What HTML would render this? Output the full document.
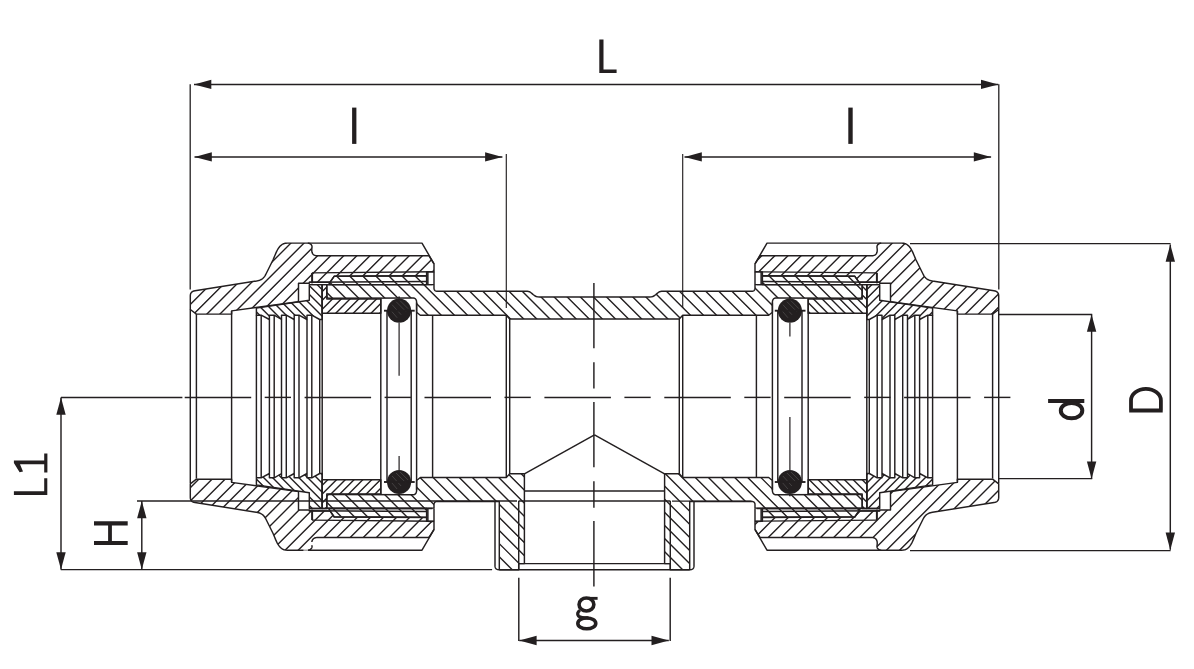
<!DOCTYPE html><html><head><meta charset="utf-8"><style>html,body{margin:0;padding:0;background:#fff;font-family:"Liberation Sans",sans-serif;overflow:hidden;}svg{display:block;}</style></head><body><svg width="1194" height="669" viewBox="0 0 1194 669"><defs><clipPath id="c1"><path d="M196.40 314.10 L190.30 309.50 L190.30 296.00 L190.37 294.89 L190.59 293.91 L190.96 293.07 L191.48 292.35 L192.14 291.77 L192.94 291.31 L193.90 290.99 L195.00 290.80 L256.50 281.00 L257.58 280.80 L258.59 280.56 L259.52 280.26 L260.39 279.91 L261.19 279.51 L261.94 279.05 L262.63 278.53 L263.28 277.96 L263.88 277.32 L264.45 276.61 L264.99 275.84 L265.50 275.00 L273.20 259.50 L273.89 257.88 L274.55 256.27 L275.21 254.69 L275.87 253.15 L276.56 251.66 L277.27 250.25 L278.04 248.92 L278.86 247.69 L279.75 246.56 L280.73 245.56 L281.81 244.71 L283.00 244.00 L283.51 243.79 L284.03 243.61 L284.57 243.45 L285.12 243.33 L285.70 243.23 L286.28 243.16 L286.88 243.11 L287.50 243.10 L307.80 243.10 L308.46 243.18 L309.07 243.32 L309.64 243.52 L310.16 243.77 L310.62 244.08 L311.02 244.44 L311.37 244.84 L311.64 245.29 L311.85 245.79 L311.98 246.32 L312.03 246.89 L312.00 247.50 L311.91 248.13 L311.83 248.78 L311.78 249.44 L311.77 250.10 L311.79 250.75 L311.85 251.39 L311.96 252.01 L312.13 252.60 L312.37 253.17 L312.67 253.69 L313.04 254.17 L313.50 254.60 L313.76 254.81 L314.04 255.00 L314.34 255.17 L314.67 255.31 L315.01 255.43 L315.38 255.54 L315.76 255.62 L316.17 255.69 L316.59 255.74 L317.04 255.77 L317.51 255.79 L318.00 255.80 L429.00 255.80 L434.00 263.80 L434.00 271.80 L426.80 271.90 L426.80 275.80 L334.10 276.30 L330.10 282.20 L309.30 282.30 L309.30 283.30 L298.50 283.30 L298.50 301.70 L231.60 310.90 L231.60 314.10ZM196.40 479.20 L190.30 483.80 L190.30 497.30 L190.37 498.41 L190.59 499.39 L190.96 500.23 L191.48 500.95 L192.14 501.53 L192.94 501.99 L193.90 502.31 L195.00 502.50 L256.50 512.30 L257.58 512.50 L258.59 512.74 L259.52 513.04 L260.39 513.39 L261.19 513.79 L261.94 514.25 L262.63 514.77 L263.28 515.34 L263.88 515.98 L264.45 516.69 L264.99 517.46 L265.50 518.30 L273.20 533.80 L273.89 535.42 L274.55 537.03 L275.21 538.61 L275.87 540.15 L276.56 541.64 L277.27 543.05 L278.04 544.38 L278.86 545.61 L279.75 546.74 L280.73 547.74 L281.81 548.59 L283.00 549.30 L283.51 549.51 L284.03 549.69 L284.57 549.85 L285.12 549.97 L285.70 550.07 L286.28 550.14 L286.88 550.19 L287.50 550.20 L307.80 550.20 L308.46 550.12 L309.07 549.98 L309.64 549.78 L310.16 549.53 L310.62 549.22 L311.02 548.86 L311.37 548.46 L311.64 548.01 L311.85 547.51 L311.98 546.98 L312.03 546.41 L312.00 545.80 L311.91 545.17 L311.83 544.52 L311.78 543.86 L311.77 543.20 L311.79 542.55 L311.85 541.91 L311.96 541.29 L312.13 540.70 L312.37 540.13 L312.67 539.61 L313.04 539.13 L313.50 538.70 L313.76 538.49 L314.04 538.30 L314.34 538.13 L314.67 537.99 L315.01 537.87 L315.38 537.76 L315.76 537.68 L316.17 537.61 L316.59 537.56 L317.04 537.53 L317.51 537.51 L318.00 537.50 L429.00 537.50 L434.00 529.50 L434.00 521.50 L426.80 521.40 L426.80 517.50 L334.10 517.00 L330.10 511.10 L309.30 511.00 L309.30 510.00 L298.50 510.00 L298.50 491.60 L231.60 482.40 L231.60 479.20Z"/></clipPath><clipPath id="c2"><path d="M992.60 314.10 L998.70 309.50 L998.70 296.00 L998.63 294.89 L998.41 293.91 L998.04 293.07 L997.52 292.35 L996.86 291.77 L996.06 291.31 L995.10 290.99 L994.00 290.80 L932.50 281.00 L931.42 280.80 L930.41 280.56 L929.48 280.26 L928.61 279.91 L927.81 279.51 L927.06 279.05 L926.37 278.53 L925.72 277.96 L925.12 277.32 L924.55 276.61 L924.01 275.84 L923.50 275.00 L915.80 259.50 L915.11 257.88 L914.45 256.27 L913.79 254.69 L913.13 253.15 L912.44 251.66 L911.73 250.25 L910.96 248.92 L910.14 247.69 L909.25 246.56 L908.27 245.56 L907.19 244.71 L906.00 244.00 L905.49 243.79 L904.97 243.61 L904.43 243.45 L903.88 243.33 L903.30 243.23 L902.72 243.16 L902.12 243.11 L901.50 243.10 L881.20 243.10 L880.54 243.18 L879.93 243.32 L879.36 243.52 L878.84 243.77 L878.38 244.08 L877.98 244.44 L877.63 244.84 L877.36 245.29 L877.15 245.79 L877.02 246.32 L876.97 246.89 L877.00 247.50 L877.09 248.13 L877.17 248.78 L877.22 249.44 L877.23 250.10 L877.21 250.75 L877.15 251.39 L877.04 252.01 L876.87 252.60 L876.63 253.17 L876.33 253.69 L875.96 254.17 L875.50 254.60 L875.24 254.81 L874.96 255.00 L874.66 255.17 L874.33 255.31 L873.99 255.43 L873.62 255.54 L873.24 255.62 L872.83 255.69 L872.41 255.74 L871.96 255.77 L871.49 255.79 L871.00 255.80 L760.00 255.80 L755.00 263.80 L755.00 271.80 L762.20 271.90 L762.20 275.80 L854.90 276.30 L858.90 282.20 L879.70 282.30 L879.70 283.30 L890.50 283.30 L890.50 301.70 L957.40 310.90 L957.40 314.10ZM992.60 479.20 L998.70 483.80 L998.70 497.30 L998.63 498.41 L998.41 499.39 L998.04 500.23 L997.52 500.95 L996.86 501.53 L996.06 501.99 L995.10 502.31 L994.00 502.50 L932.50 512.30 L931.42 512.50 L930.41 512.74 L929.48 513.04 L928.61 513.39 L927.81 513.79 L927.06 514.25 L926.37 514.77 L925.72 515.34 L925.12 515.98 L924.55 516.69 L924.01 517.46 L923.50 518.30 L915.80 533.80 L915.11 535.42 L914.45 537.03 L913.79 538.61 L913.13 540.15 L912.44 541.64 L911.73 543.05 L910.96 544.38 L910.14 545.61 L909.25 546.74 L908.27 547.74 L907.19 548.59 L906.00 549.30 L905.49 549.51 L904.97 549.69 L904.43 549.85 L903.88 549.97 L903.30 550.07 L902.72 550.14 L902.12 550.19 L901.50 550.20 L881.20 550.20 L880.54 550.12 L879.93 549.98 L879.36 549.78 L878.84 549.53 L878.38 549.22 L877.98 548.86 L877.63 548.46 L877.36 548.01 L877.15 547.51 L877.02 546.98 L876.97 546.41 L877.00 545.80 L877.09 545.17 L877.17 544.52 L877.22 543.86 L877.23 543.20 L877.21 542.55 L877.15 541.91 L877.04 541.29 L876.87 540.70 L876.63 540.13 L876.33 539.61 L875.96 539.13 L875.50 538.70 L875.24 538.49 L874.96 538.30 L874.66 538.13 L874.33 537.99 L873.99 537.87 L873.62 537.76 L873.24 537.68 L872.83 537.61 L872.41 537.56 L871.96 537.53 L871.49 537.51 L871.00 537.50 L760.00 537.50 L755.00 529.50 L755.00 521.50 L762.20 521.40 L762.20 517.50 L854.90 517.00 L858.90 511.10 L879.70 511.00 L879.70 510.00 L890.50 510.00 L890.50 491.60 L957.40 482.40 L957.40 479.20Z"/></clipPath><clipPath id="c3"><path d="M326.80 284.60 L434.00 284.60 L434.00 288.00 L434.05 288.77 L434.22 289.44 L434.49 290.01 L434.88 290.48 L435.37 290.84 L435.97 291.09 L436.68 291.25 L437.50 291.30 L527.40 291.30 L528.38 291.41 L529.30 291.71 L530.16 292.18 L530.99 292.75 L531.80 293.41 L532.61 294.10 L533.44 294.79 L534.31 295.45 L535.23 296.02 L536.23 296.49 L537.31 296.79 L538.50 296.90 L594.50 296.90 L650.50 296.90 L651.69 296.79 L652.77 296.49 L653.77 296.02 L654.69 295.45 L655.56 294.79 L656.39 294.10 L657.20 293.41 L658.01 292.75 L658.84 292.18 L659.70 291.71 L660.62 291.41 L661.60 291.30 L751.50 291.30 L752.32 291.25 L753.03 291.09 L753.63 290.84 L754.12 290.48 L754.51 290.01 L754.78 289.44 L754.95 288.77 L755.00 288.00 L755.00 284.60 L862.20 284.60 L862.20 295.00 L862.15 295.77 L862.00 296.44 L861.75 297.01 L861.40 297.48 L860.95 297.84 L860.40 298.09 L859.75 298.25 L859.00 298.30 L776.40 297.90 L775.46 297.97 L774.65 298.19 L773.96 298.55 L773.40 299.05 L772.96 299.70 L772.65 300.49 L772.46 301.42 L772.40 302.50 L772.40 312.20 L768.70 315.20 L682.70 315.20 L679.30 318.90 L594.50 318.90 L509.70 318.90 L506.30 315.20 L420.30 315.20 L416.60 312.20 L416.60 302.50 L416.54 301.42 L416.35 300.49 L416.04 299.70 L415.60 299.05 L415.04 298.55 L414.35 298.19 L413.54 297.97 L412.60 297.90 L330.00 298.30 L329.25 298.25 L328.60 298.09 L328.05 297.84 L327.60 297.48 L327.25 297.01 L327.00 296.44 L326.85 295.77 L326.80 295.00ZM326.80 508.10 L434.00 508.10 L434.00 504.70 L434.05 503.93 L434.22 503.26 L434.49 502.69 L434.88 502.23 L435.37 501.86 L435.97 501.61 L436.68 501.45 L437.50 501.40 L499.30 501.40 L499.30 569.70 L518.70 569.70 L518.70 563.60 L524.40 563.60 L524.40 473.80 L509.70 473.80 L506.30 477.50 L420.30 477.50 L416.60 480.50 L416.60 490.20 L416.54 491.28 L416.35 492.21 L416.04 493.00 L415.60 493.65 L415.04 494.15 L414.35 494.51 L413.54 494.73 L412.60 494.80 L330.00 494.40 L329.25 494.45 L328.60 494.61 L328.05 494.86 L327.60 495.23 L327.25 495.69 L327.00 496.26 L326.85 496.93 L326.80 497.70ZM862.20 508.10 L755.00 508.10 L755.00 504.70 L754.95 503.93 L754.78 503.26 L754.51 502.69 L754.12 502.23 L753.63 501.86 L753.03 501.61 L752.32 501.45 L751.50 501.40 L689.70 501.40 L689.70 569.70 L670.30 569.70 L670.30 563.60 L664.60 563.60 L664.60 473.80 L679.30 473.80 L682.70 477.50 L768.70 477.50 L772.40 480.50 L772.40 490.20 L772.46 491.28 L772.65 492.21 L772.96 493.00 L773.40 493.65 L773.96 494.15 L774.65 494.51 L775.46 494.73 L776.40 494.80 L859.00 494.40 L859.75 494.45 L860.40 494.61 L860.95 494.86 L861.40 495.23 L861.75 495.69 L862.00 496.26 L862.15 496.93 L862.20 497.70ZM334.10 276.30 L426.80 275.80 L426.80 284.60 L328.60 284.60 L330.10 282.20ZM854.90 276.30 L762.20 275.80 L762.20 284.60 L860.40 284.60 L858.90 282.20ZM334.10 516.70 L426.80 517.20 L426.80 508.40 L328.60 508.40 L330.10 510.80ZM854.90 516.70 L762.20 517.20 L762.20 508.40 L860.40 508.40 L858.90 510.80Z"/></clipPath><clipPath id="c4"><path d="M256.40 308.10 L309.30 300.20 L309.30 284.60 L322.20 284.60 L322.20 319.50 L319.70 319.50 L311.80 315.20 L307.00 315.20 L307.00 319.50 L299.00 315.20 L294.20 315.20 L294.20 319.50 L286.30 315.20 L281.50 315.20 L281.50 319.50 L274.20 315.20 L269.40 315.20 L269.40 319.50 L261.20 315.20 L256.40 315.20ZM256.40 484.90 L309.30 492.80 L309.30 508.40 L322.20 508.40 L322.20 473.50 L319.70 473.50 L311.80 477.80 L307.00 477.80 L307.00 473.50 L299.00 477.80 L294.20 477.80 L294.20 473.50 L286.30 477.80 L281.50 477.80 L281.50 473.50 L274.20 477.80 L269.40 477.80 L269.40 473.50 L261.20 477.80 L256.40 477.80Z"/></clipPath><clipPath id="c5"><path d="M932.60 308.10 L879.70 300.20 L879.70 284.60 L866.80 284.60 L866.80 319.50 L869.30 319.50 L877.20 315.20 L882.00 315.20 L882.00 319.50 L890.00 315.20 L894.80 315.20 L894.80 319.50 L902.70 315.20 L907.50 315.20 L907.50 319.50 L914.80 315.20 L919.60 315.20 L919.60 319.50 L927.80 315.20 L932.60 315.20ZM932.60 484.90 L879.70 492.80 L879.70 508.40 L866.80 508.40 L866.80 473.50 L869.30 473.50 L877.20 477.80 L882.00 477.80 L882.00 473.50 L890.00 477.80 L894.80 477.80 L894.80 473.50 L902.70 477.80 L907.50 477.80 L907.50 473.50 L914.80 477.80 L919.60 477.80 L919.60 473.50 L927.80 477.80 L932.60 477.80Z"/></clipPath><clipPath id="c6"><path d="M322.20 284.60 L326.80 284.60 L326.80 299.00 L380.80 299.00 L380.80 313.20 L322.20 313.20ZM322.20 508.40 L326.80 508.40 L326.80 494.00 L380.80 494.00 L380.80 479.80 L322.20 479.80Z"/></clipPath><clipPath id="c7"><path d="M866.80 284.60 L862.20 284.60 L862.20 299.00 L808.20 299.00 L808.20 313.20 L866.80 313.20ZM866.80 508.40 L862.20 508.40 L862.20 494.00 L808.20 494.00 L808.20 479.80 L866.80 479.80Z"/></clipPath></defs><rect width="1194" height="669" fill="#fff"/><path clip-path="url(#c1)" d="M-123.00 552.20L188.10 241.10M-109.90 552.20L201.20 241.10M-96.80 552.20L214.30 241.10M-83.70 552.20L227.40 241.10M-70.60 552.20L240.50 241.10M-57.50 552.20L253.60 241.10M-44.40 552.20L266.70 241.10M-31.30 552.20L279.80 241.10M-18.20 552.20L292.90 241.10M-5.10 552.20L306.00 241.10M8.00 552.20L319.10 241.10M21.10 552.20L332.20 241.10M34.20 552.20L345.30 241.10M47.30 552.20L358.40 241.10M60.40 552.20L371.50 241.10M73.50 552.20L384.60 241.10M86.60 552.20L397.70 241.10M99.70 552.20L410.80 241.10M112.80 552.20L423.90 241.10M125.90 552.20L437.00 241.10M139.00 552.20L450.10 241.10M152.10 552.20L463.20 241.10M165.20 552.20L476.30 241.10M178.30 552.20L489.40 241.10M191.40 552.20L502.50 241.10M204.50 552.20L515.60 241.10M217.60 552.20L528.70 241.10M230.70 552.20L541.80 241.10M243.80 552.20L554.90 241.10M256.90 552.20L568.00 241.10M270.00 552.20L581.10 241.10M283.10 552.20L594.20 241.10M296.20 552.20L607.30 241.10M309.30 552.20L620.40 241.10M322.40 552.20L633.50 241.10M335.50 552.20L646.60 241.10M348.60 552.20L659.70 241.10M361.70 552.20L672.80 241.10M374.80 552.20L685.90 241.10M387.90 552.20L699.00 241.10M401.00 552.20L712.10 241.10M414.10 552.20L725.20 241.10M427.20 552.20L738.30 241.10M440.30 552.20L751.40 241.10" stroke="#231f20" stroke-width="1.40" fill="none"/><path clip-path="url(#c2)" d="M439.10 552.20L750.20 241.10M452.20 552.20L763.30 241.10M465.30 552.20L776.40 241.10M478.40 552.20L789.50 241.10M491.50 552.20L802.60 241.10M504.60 552.20L815.70 241.10M517.70 552.20L828.80 241.10M530.80 552.20L841.90 241.10M543.90 552.20L855.00 241.10M557.00 552.20L868.10 241.10M570.10 552.20L881.20 241.10M583.20 552.20L894.30 241.10M596.30 552.20L907.40 241.10M609.40 552.20L920.50 241.10M622.50 552.20L933.60 241.10M635.60 552.20L946.70 241.10M648.70 552.20L959.80 241.10M661.80 552.20L972.90 241.10M674.90 552.20L986.00 241.10M688.00 552.20L999.10 241.10M701.10 552.20L1012.20 241.10M714.20 552.20L1025.30 241.10M727.30 552.20L1038.40 241.10M740.40 552.20L1051.50 241.10M753.50 552.20L1064.60 241.10M766.60 552.20L1077.70 241.10M779.70 552.20L1090.80 241.10M792.80 552.20L1103.90 241.10M805.90 552.20L1117.00 241.10M819.00 552.20L1130.10 241.10M832.10 552.20L1143.20 241.10M845.20 552.20L1156.30 241.10M858.30 552.20L1169.40 241.10M871.40 552.20L1182.50 241.10M884.50 552.20L1195.60 241.10M897.60 552.20L1208.70 241.10M910.70 552.20L1221.80 241.10M923.80 552.20L1234.90 241.10M936.90 552.20L1248.00 241.10M950.00 552.20L1261.10 241.10M963.10 552.20L1274.20 241.10M976.20 552.20L1287.30 241.10M989.30 552.20L1300.40 241.10M1002.40 552.20L1313.50 241.10" stroke="#231f20" stroke-width="1.40" fill="none"/><path clip-path="url(#c3)" d="M19.66 273.80L317.56 571.70M32.77 273.80L330.67 571.70M45.88 273.80L343.78 571.70M58.99 273.80L356.89 571.70M72.10 273.80L370.00 571.70M85.21 273.80L383.11 571.70M98.32 273.80L396.22 571.70M111.43 273.80L409.33 571.70M124.54 273.80L422.44 571.70M137.65 273.80L435.55 571.70M150.76 273.80L448.66 571.70M163.87 273.80L461.77 571.70M176.98 273.80L474.88 571.70M190.09 273.80L487.99 571.70M203.20 273.80L501.10 571.70M216.31 273.80L514.21 571.70M229.42 273.80L527.32 571.70M242.53 273.80L540.43 571.70M255.64 273.80L553.54 571.70M268.75 273.80L566.65 571.70M281.86 273.80L579.76 571.70M294.97 273.80L592.87 571.70M308.08 273.80L605.98 571.70M321.19 273.80L619.09 571.70M334.30 273.80L632.20 571.70M347.41 273.80L645.31 571.70M360.52 273.80L658.42 571.70M373.63 273.80L671.53 571.70M386.74 273.80L684.64 571.70M399.85 273.80L697.75 571.70M412.96 273.80L710.86 571.70M426.07 273.80L723.97 571.70M439.18 273.80L737.08 571.70M452.29 273.80L750.19 571.70M465.40 273.80L763.30 571.70M478.51 273.80L776.41 571.70M491.62 273.80L789.52 571.70M504.73 273.80L802.63 571.70M517.84 273.80L815.74 571.70M530.95 273.80L828.85 571.70M544.06 273.80L841.96 571.70M557.17 273.80L855.07 571.70M570.28 273.80L868.18 571.70M583.39 273.80L881.29 571.70M596.50 273.80L894.40 571.70M609.61 273.80L907.51 571.70M622.72 273.80L920.62 571.70M635.83 273.80L933.73 571.70M648.94 273.80L946.84 571.70M662.05 273.80L959.95 571.70M675.16 273.80L973.06 571.70M688.27 273.80L986.17 571.70M701.38 273.80L999.28 571.70M714.49 273.80L1012.39 571.70M727.60 273.80L1025.50 571.70M740.71 273.80L1038.61 571.70M753.82 273.80L1051.72 571.70M766.93 273.80L1064.83 571.70M780.04 273.80L1077.94 571.70M793.15 273.80L1091.05 571.70M806.26 273.80L1104.16 571.70M819.37 273.80L1117.27 571.70M832.48 273.80L1130.38 571.70M845.59 273.80L1143.49 571.70M858.70 273.80L1156.60 571.70M871.81 273.80L1169.71 571.70" stroke="#231f20" stroke-width="1.40" fill="none"/><path clip-path="url(#c4)" d="M24.70 282.60L252.50 510.40M33.50 282.60L261.30 510.40M42.30 282.60L270.10 510.40M51.10 282.60L278.90 510.40M59.90 282.60L287.70 510.40M68.70 282.60L296.50 510.40M77.50 282.60L305.30 510.40M86.30 282.60L314.10 510.40M95.10 282.60L322.90 510.40M103.90 282.60L331.70 510.40M112.70 282.60L340.50 510.40M121.50 282.60L349.30 510.40M130.30 282.60L358.10 510.40M139.10 282.60L366.90 510.40M147.90 282.60L375.70 510.40M156.70 282.60L384.50 510.40M165.50 282.60L393.30 510.40M174.30 282.60L402.10 510.40M183.10 282.60L410.90 510.40M191.90 282.60L419.70 510.40M200.70 282.60L428.50 510.40M209.50 282.60L437.30 510.40M218.30 282.60L446.10 510.40M227.10 282.60L454.90 510.40M235.90 282.60L463.70 510.40M244.70 282.60L472.50 510.40M253.50 282.60L481.30 510.40M262.30 282.60L490.10 510.40M271.10 282.60L498.90 510.40M279.90 282.60L507.70 510.40M288.70 282.60L516.50 510.40M297.50 282.60L525.30 510.40M306.30 282.60L534.10 510.40M315.10 282.60L542.90 510.40M323.90 282.60L551.70 510.40M332.70 282.60L560.50 510.40" stroke="#231f20" stroke-width="1.40" fill="none"/><path clip-path="url(#c5)" d="M628.50 510.40L856.30 282.60M637.30 510.40L865.10 282.60M646.10 510.40L873.90 282.60M654.90 510.40L882.70 282.60M663.70 510.40L891.50 282.60M672.50 510.40L900.30 282.60M681.30 510.40L909.10 282.60M690.10 510.40L917.90 282.60M698.90 510.40L926.70 282.60M707.70 510.40L935.50 282.60M716.50 510.40L944.30 282.60M725.30 510.40L953.10 282.60M734.10 510.40L961.90 282.60M742.90 510.40L970.70 282.60M751.70 510.40L979.50 282.60M760.50 510.40L988.30 282.60M769.30 510.40L997.10 282.60M778.10 510.40L1005.90 282.60M786.90 510.40L1014.70 282.60M795.70 510.40L1023.50 282.60M804.50 510.40L1032.30 282.60M813.30 510.40L1041.10 282.60M822.10 510.40L1049.90 282.60M830.90 510.40L1058.70 282.60M839.70 510.40L1067.50 282.60M848.50 510.40L1076.30 282.60M857.30 510.40L1085.10 282.60M866.10 510.40L1093.90 282.60M874.90 510.40L1102.70 282.60M883.70 510.40L1111.50 282.60M892.50 510.40L1120.30 282.60M901.30 510.40L1129.10 282.60M910.10 510.40L1137.90 282.60M918.90 510.40L1146.70 282.60M927.70 510.40L1155.50 282.60M936.50 510.40L1164.30 282.60" stroke="#231f20" stroke-width="1.40" fill="none"/><path clip-path="url(#c6)" d="M85.80 510.40L313.60 282.60M94.60 510.40L322.40 282.60M103.40 510.40L331.20 282.60M112.20 510.40L340.00 282.60M121.00 510.40L348.80 282.60M129.80 510.40L357.60 282.60M138.60 510.40L366.40 282.60M147.40 510.40L375.20 282.60M156.20 510.40L384.00 282.60M165.00 510.40L392.80 282.60M173.80 510.40L401.60 282.60M182.60 510.40L410.40 282.60M191.40 510.40L419.20 282.60M200.20 510.40L428.00 282.60M209.00 510.40L436.80 282.60M217.80 510.40L445.60 282.60M226.60 510.40L454.40 282.60M235.40 510.40L463.20 282.60M244.20 510.40L472.00 282.60M253.00 510.40L480.80 282.60M261.80 510.40L489.60 282.60M270.60 510.40L498.40 282.60M279.40 510.40L507.20 282.60M288.20 510.40L516.00 282.60M297.00 510.40L524.80 282.60M305.80 510.40L533.60 282.60M314.60 510.40L542.40 282.60M323.40 510.40L551.20 282.60M332.20 510.40L560.00 282.60M341.00 510.40L568.80 282.60M349.80 510.40L577.60 282.60M358.60 510.40L586.40 282.60M367.40 510.40L595.20 282.60M376.20 510.40L604.00 282.60M385.00 510.40L612.80 282.60" stroke="#231f20" stroke-width="1.40" fill="none"/><path clip-path="url(#c7)" d="M577.00 282.60L804.80 510.40M585.80 282.60L813.60 510.40M594.60 282.60L822.40 510.40M603.40 282.60L831.20 510.40M612.20 282.60L840.00 510.40M621.00 282.60L848.80 510.40M629.80 282.60L857.60 510.40M638.60 282.60L866.40 510.40M647.40 282.60L875.20 510.40M656.20 282.60L884.00 510.40M665.00 282.60L892.80 510.40M673.80 282.60L901.60 510.40M682.60 282.60L910.40 510.40M691.40 282.60L919.20 510.40M700.20 282.60L928.00 510.40M709.00 282.60L936.80 510.40M717.80 282.60L945.60 510.40M726.60 282.60L954.40 510.40M735.40 282.60L963.20 510.40M744.20 282.60L972.00 510.40M753.00 282.60L980.80 510.40M761.80 282.60L989.60 510.40M770.60 282.60L998.40 510.40M779.40 282.60L1007.20 510.40M788.20 282.60L1016.00 510.40M797.00 282.60L1024.80 510.40M805.80 282.60L1033.60 510.40M814.60 282.60L1042.40 510.40M823.40 282.60L1051.20 510.40M832.20 282.60L1060.00 510.40M841.00 282.60L1068.80 510.40M849.80 282.60L1077.60 510.40M858.60 282.60L1086.40 510.40M867.40 282.60L1095.20 510.40M876.20 282.60L1104.00 510.40" stroke="#231f20" stroke-width="1.40" fill="none"/><path d="M196.40 314.10 L190.30 309.50 L190.30 296.00 L190.37 294.89 L190.59 293.91 L190.96 293.07 L191.48 292.35 L192.14 291.77 L192.94 291.31 L193.90 290.99 L195.00 290.80 L256.50 281.00 L257.58 280.80 L258.59 280.56 L259.52 280.26 L260.39 279.91 L261.19 279.51 L261.94 279.05 L262.63 278.53 L263.28 277.96 L263.88 277.32 L264.45 276.61 L264.99 275.84 L265.50 275.00 L273.20 259.50 L273.89 257.88 L274.55 256.27 L275.21 254.69 L275.87 253.15 L276.56 251.66 L277.27 250.25 L278.04 248.92 L278.86 247.69 L279.75 246.56 L280.73 245.56 L281.81 244.71 L283.00 244.00 L283.51 243.79 L284.03 243.61 L284.57 243.45 L285.12 243.33 L285.70 243.23 L286.28 243.16 L286.88 243.11 L287.50 243.10 L307.80 243.10 L308.46 243.18 L309.07 243.32 L309.64 243.52 L310.16 243.77 L310.62 244.08 L311.02 244.44 L311.37 244.84 L311.64 245.29 L311.85 245.79 L311.98 246.32 L312.03 246.89 L312.00 247.50 L311.91 248.13 L311.83 248.78 L311.78 249.44 L311.77 250.10 L311.79 250.75 L311.85 251.39 L311.96 252.01 L312.13 252.60 L312.37 253.17 L312.67 253.69 L313.04 254.17 L313.50 254.60 L313.76 254.81 L314.04 255.00 L314.34 255.17 L314.67 255.31 L315.01 255.43 L315.38 255.54 L315.76 255.62 L316.17 255.69 L316.59 255.74 L317.04 255.77 L317.51 255.79 L318.00 255.80 L429.00 255.80 L434.00 263.80 L434.00 271.80 L426.80 271.90 L426.80 275.80 L334.10 276.30 L330.10 282.20 L309.30 282.30 L309.30 283.30 L298.50 283.30 L298.50 301.70 L231.60 310.90 L231.60 314.10Z" stroke="#231f20" stroke-width="1.45" fill="none" stroke-linejoin="round"/><path d="M992.60 314.10 L998.70 309.50 L998.70 296.00 L998.63 294.89 L998.41 293.91 L998.04 293.07 L997.52 292.35 L996.86 291.77 L996.06 291.31 L995.10 290.99 L994.00 290.80 L932.50 281.00 L931.42 280.80 L930.41 280.56 L929.48 280.26 L928.61 279.91 L927.81 279.51 L927.06 279.05 L926.37 278.53 L925.72 277.96 L925.12 277.32 L924.55 276.61 L924.01 275.84 L923.50 275.00 L915.80 259.50 L915.11 257.88 L914.45 256.27 L913.79 254.69 L913.13 253.15 L912.44 251.66 L911.73 250.25 L910.96 248.92 L910.14 247.69 L909.25 246.56 L908.27 245.56 L907.19 244.71 L906.00 244.00 L905.49 243.79 L904.97 243.61 L904.43 243.45 L903.88 243.33 L903.30 243.23 L902.72 243.16 L902.12 243.11 L901.50 243.10 L881.20 243.10 L880.54 243.18 L879.93 243.32 L879.36 243.52 L878.84 243.77 L878.38 244.08 L877.98 244.44 L877.63 244.84 L877.36 245.29 L877.15 245.79 L877.02 246.32 L876.97 246.89 L877.00 247.50 L877.09 248.13 L877.17 248.78 L877.22 249.44 L877.23 250.10 L877.21 250.75 L877.15 251.39 L877.04 252.01 L876.87 252.60 L876.63 253.17 L876.33 253.69 L875.96 254.17 L875.50 254.60 L875.24 254.81 L874.96 255.00 L874.66 255.17 L874.33 255.31 L873.99 255.43 L873.62 255.54 L873.24 255.62 L872.83 255.69 L872.41 255.74 L871.96 255.77 L871.49 255.79 L871.00 255.80 L760.00 255.80 L755.00 263.80 L755.00 271.80 L762.20 271.90 L762.20 275.80 L854.90 276.30 L858.90 282.20 L879.70 282.30 L879.70 283.30 L890.50 283.30 L890.50 301.70 L957.40 310.90 L957.40 314.10Z" stroke="#231f20" stroke-width="1.45" fill="none" stroke-linejoin="round"/><path d="M196.40 479.20 L190.30 483.80 L190.30 497.30 L190.37 498.41 L190.59 499.39 L190.96 500.23 L191.48 500.95 L192.14 501.53 L192.94 501.99 L193.90 502.31 L195.00 502.50 L256.50 512.30 L257.58 512.50 L258.59 512.74 L259.52 513.04 L260.39 513.39 L261.19 513.79 L261.94 514.25 L262.63 514.77 L263.28 515.34 L263.88 515.98 L264.45 516.69 L264.99 517.46 L265.50 518.30 L273.20 533.80 L273.89 535.42 L274.55 537.03 L275.21 538.61 L275.87 540.15 L276.56 541.64 L277.27 543.05 L278.04 544.38 L278.86 545.61 L279.75 546.74 L280.73 547.74 L281.81 548.59 L283.00 549.30 L283.51 549.51 L284.03 549.69 L284.57 549.85 L285.12 549.97 L285.70 550.07 L286.28 550.14 L286.88 550.19 L287.50 550.20 L307.80 550.20 L308.46 550.12 L309.07 549.98 L309.64 549.78 L310.16 549.53 L310.62 549.22 L311.02 548.86 L311.37 548.46 L311.64 548.01 L311.85 547.51 L311.98 546.98 L312.03 546.41 L312.00 545.80 L311.91 545.17 L311.83 544.52 L311.78 543.86 L311.77 543.20 L311.79 542.55 L311.85 541.91 L311.96 541.29 L312.13 540.70 L312.37 540.13 L312.67 539.61 L313.04 539.13 L313.50 538.70 L313.76 538.49 L314.04 538.30 L314.34 538.13 L314.67 537.99 L315.01 537.87 L315.38 537.76 L315.76 537.68 L316.17 537.61 L316.59 537.56 L317.04 537.53 L317.51 537.51 L318.00 537.50 L429.00 537.50 L434.00 529.50 L434.00 521.50 L426.80 521.40 L426.80 517.50 L334.10 517.00 L330.10 511.10 L309.30 511.00 L309.30 510.00 L298.50 510.00 L298.50 491.60 L231.60 482.40 L231.60 479.20Z" stroke="#231f20" stroke-width="1.45" fill="none" stroke-linejoin="round"/><path d="M992.60 479.20 L998.70 483.80 L998.70 497.30 L998.63 498.41 L998.41 499.39 L998.04 500.23 L997.52 500.95 L996.86 501.53 L996.06 501.99 L995.10 502.31 L994.00 502.50 L932.50 512.30 L931.42 512.50 L930.41 512.74 L929.48 513.04 L928.61 513.39 L927.81 513.79 L927.06 514.25 L926.37 514.77 L925.72 515.34 L925.12 515.98 L924.55 516.69 L924.01 517.46 L923.50 518.30 L915.80 533.80 L915.11 535.42 L914.45 537.03 L913.79 538.61 L913.13 540.15 L912.44 541.64 L911.73 543.05 L910.96 544.38 L910.14 545.61 L909.25 546.74 L908.27 547.74 L907.19 548.59 L906.00 549.30 L905.49 549.51 L904.97 549.69 L904.43 549.85 L903.88 549.97 L903.30 550.07 L902.72 550.14 L902.12 550.19 L901.50 550.20 L881.20 550.20 L880.54 550.12 L879.93 549.98 L879.36 549.78 L878.84 549.53 L878.38 549.22 L877.98 548.86 L877.63 548.46 L877.36 548.01 L877.15 547.51 L877.02 546.98 L876.97 546.41 L877.00 545.80 L877.09 545.17 L877.17 544.52 L877.22 543.86 L877.23 543.20 L877.21 542.55 L877.15 541.91 L877.04 541.29 L876.87 540.70 L876.63 540.13 L876.33 539.61 L875.96 539.13 L875.50 538.70 L875.24 538.49 L874.96 538.30 L874.66 538.13 L874.33 537.99 L873.99 537.87 L873.62 537.76 L873.24 537.68 L872.83 537.61 L872.41 537.56 L871.96 537.53 L871.49 537.51 L871.00 537.50 L760.00 537.50 L755.00 529.50 L755.00 521.50 L762.20 521.40 L762.20 517.50 L854.90 517.00 L858.90 511.10 L879.70 511.00 L879.70 510.00 L890.50 510.00 L890.50 491.60 L957.40 482.40 L957.40 479.20Z" stroke="#231f20" stroke-width="1.45" fill="none" stroke-linejoin="round"/><path d="M307.80 243.10 L422.00 243.10 L434.00 263.80" stroke="#231f20" stroke-width="1.45" fill="none" stroke-linejoin="round"/><path d="M881.20 243.10 L767.00 243.10 L755.00 263.80" stroke="#231f20" stroke-width="1.45" fill="none" stroke-linejoin="round"/><path d="M307.80 550.20 L422.00 550.20 L434.00 529.50" stroke="#231f20" stroke-width="1.45" fill="none" stroke-linejoin="round"/><path d="M881.20 550.20 L767.00 550.20 L755.00 529.50" stroke="#231f20" stroke-width="1.45" fill="none" stroke-linejoin="round"/><path d="M334.10 276.30 L426.80 275.80 L426.80 284.60 L328.60 284.60 L330.10 282.20Z" stroke="#231f20" stroke-width="1.45" fill="none" stroke-linejoin="round"/><path d="M854.90 276.30 L762.20 275.80 L762.20 284.60 L860.40 284.60 L858.90 282.20Z" stroke="#231f20" stroke-width="1.45" fill="none" stroke-linejoin="round"/><path d="M334.10 516.70 L426.80 517.20 L426.80 508.40 L328.60 508.40 L330.10 510.80Z" stroke="#231f20" stroke-width="1.45" fill="none" stroke-linejoin="round"/><path d="M854.90 516.70 L762.20 517.20 L762.20 508.40 L860.40 508.40 L858.90 510.80Z" stroke="#231f20" stroke-width="1.45" fill="none" stroke-linejoin="round"/><path d="M256.40 308.10 L309.30 300.20 L309.30 284.60 L322.20 284.60 L322.20 319.50 L319.70 319.50 L311.80 315.20 L307.00 315.20 L307.00 319.50 L299.00 315.20 L294.20 315.20 L294.20 319.50 L286.30 315.20 L281.50 315.20 L281.50 319.50 L274.20 315.20 L269.40 315.20 L269.40 319.50 L261.20 315.20 L256.40 315.20Z" stroke="#231f20" stroke-width="1.45" fill="none" stroke-linejoin="round"/><path d="M932.60 308.10 L879.70 300.20 L879.70 284.60 L866.80 284.60 L866.80 319.50 L869.30 319.50 L877.20 315.20 L882.00 315.20 L882.00 319.50 L890.00 315.20 L894.80 315.20 L894.80 319.50 L902.70 315.20 L907.50 315.20 L907.50 319.50 L914.80 315.20 L919.60 315.20 L919.60 319.50 L927.80 315.20 L932.60 315.20Z" stroke="#231f20" stroke-width="1.45" fill="none" stroke-linejoin="round"/><path d="M256.40 484.90 L309.30 492.80 L309.30 508.40 L322.20 508.40 L322.20 473.50 L319.70 473.50 L311.80 477.80 L307.00 477.80 L307.00 473.50 L299.00 477.80 L294.20 477.80 L294.20 473.50 L286.30 477.80 L281.50 477.80 L281.50 473.50 L274.20 477.80 L269.40 477.80 L269.40 473.50 L261.20 477.80 L256.40 477.80Z" stroke="#231f20" stroke-width="1.45" fill="none" stroke-linejoin="round"/><path d="M932.60 484.90 L879.70 492.80 L879.70 508.40 L866.80 508.40 L866.80 473.50 L869.30 473.50 L877.20 477.80 L882.00 477.80 L882.00 473.50 L890.00 477.80 L894.80 477.80 L894.80 473.50 L902.70 477.80 L907.50 477.80 L907.50 473.50 L914.80 477.80 L919.60 477.80 L919.60 473.50 L927.80 477.80 L932.60 477.80Z" stroke="#231f20" stroke-width="1.45" fill="none" stroke-linejoin="round"/><path d="M322.20 284.60 L326.80 284.60 L326.80 299.00 L380.80 299.00 L380.80 313.20 L322.20 313.20Z" stroke="#231f20" stroke-width="1.45" fill="none" stroke-linejoin="round"/><path d="M866.80 284.60 L862.20 284.60 L862.20 299.00 L808.20 299.00 L808.20 313.20 L866.80 313.20Z" stroke="#231f20" stroke-width="1.45" fill="none" stroke-linejoin="round"/><path d="M322.20 508.40 L326.80 508.40 L326.80 494.00 L380.80 494.00 L380.80 479.80 L322.20 479.80Z" stroke="#231f20" stroke-width="1.45" fill="none" stroke-linejoin="round"/><path d="M866.80 508.40 L862.20 508.40 L862.20 494.00 L808.20 494.00 L808.20 479.80 L866.80 479.80Z" stroke="#231f20" stroke-width="1.45" fill="none" stroke-linejoin="round"/><path d="M326.80 284.60 L434.00 284.60 L434.00 288.00 L434.05 288.77 L434.22 289.44 L434.49 290.01 L434.88 290.48 L435.37 290.84 L435.97 291.09 L436.68 291.25 L437.50 291.30 L527.40 291.30 L528.38 291.41 L529.30 291.71 L530.16 292.18 L530.99 292.75 L531.80 293.41 L532.61 294.10 L533.44 294.79 L534.31 295.45 L535.23 296.02 L536.23 296.49 L537.31 296.79 L538.50 296.90 L594.50 296.90 L650.50 296.90 L651.69 296.79 L652.77 296.49 L653.77 296.02 L654.69 295.45 L655.56 294.79 L656.39 294.10 L657.20 293.41 L658.01 292.75 L658.84 292.18 L659.70 291.71 L660.62 291.41 L661.60 291.30 L751.50 291.30 L752.32 291.25 L753.03 291.09 L753.63 290.84 L754.12 290.48 L754.51 290.01 L754.78 289.44 L754.95 288.77 L755.00 288.00 L755.00 284.60 L862.20 284.60 L862.20 295.00 L862.15 295.77 L862.00 296.44 L861.75 297.01 L861.40 297.48 L860.95 297.84 L860.40 298.09 L859.75 298.25 L859.00 298.30 L776.40 297.90 L775.46 297.97 L774.65 298.19 L773.96 298.55 L773.40 299.05 L772.96 299.70 L772.65 300.49 L772.46 301.42 L772.40 302.50 L772.40 312.20 L768.70 315.20 L682.70 315.20 L679.30 318.90 L594.50 318.90 L509.70 318.90 L506.30 315.20 L420.30 315.20 L416.60 312.20 L416.60 302.50 L416.54 301.42 L416.35 300.49 L416.04 299.70 L415.60 299.05 L415.04 298.55 L414.35 298.19 L413.54 297.97 L412.60 297.90 L330.00 298.30 L329.25 298.25 L328.60 298.09 L328.05 297.84 L327.60 297.48 L327.25 297.01 L327.00 296.44 L326.85 295.77 L326.80 295.00Z" stroke="#231f20" stroke-width="1.45" fill="none" stroke-linejoin="round"/><path d="M326.80 508.10 L434.00 508.10 L434.00 504.70 L434.05 503.93 L434.22 503.26 L434.49 502.69 L434.88 502.23 L435.37 501.86 L435.97 501.61 L436.68 501.45 L437.50 501.40 L499.30 501.40 L499.30 569.70 L518.70 569.70 L518.70 563.60 L524.40 563.60 L524.40 473.80 L509.70 473.80 L506.30 477.50 L420.30 477.50 L416.60 480.50 L416.60 490.20 L416.54 491.28 L416.35 492.21 L416.04 493.00 L415.60 493.65 L415.04 494.15 L414.35 494.51 L413.54 494.73 L412.60 494.80 L330.00 494.40 L329.25 494.45 L328.60 494.61 L328.05 494.86 L327.60 495.23 L327.25 495.69 L327.00 496.26 L326.85 496.93 L326.80 497.70Z" stroke="#231f20" stroke-width="1.45" fill="none" stroke-linejoin="round"/><path d="M862.20 508.10 L755.00 508.10 L755.00 504.70 L754.95 503.93 L754.78 503.26 L754.51 502.69 L754.12 502.23 L753.63 501.86 L753.03 501.61 L752.32 501.45 L751.50 501.40 L689.70 501.40 L689.70 569.70 L670.30 569.70 L670.30 563.60 L664.60 563.60 L664.60 473.80 L679.30 473.80 L682.70 477.50 L768.70 477.50 L772.40 480.50 L772.40 490.20 L772.46 491.28 L772.65 492.21 L772.96 493.00 L773.40 493.65 L773.96 494.15 L774.65 494.51 L775.46 494.73 L776.40 494.80 L859.00 494.40 L859.75 494.45 L860.40 494.61 L860.95 494.86 L861.40 495.23 L861.75 495.69 L862.00 496.26 L862.15 496.93 L862.20 497.70Z" stroke="#231f20" stroke-width="1.45" fill="none" stroke-linejoin="round"/><line x1="312.00" y1="272.90" x2="434.00" y2="271.80" stroke="#231f20" stroke-width="1.45"/><line x1="312.10" y1="272.90" x2="312.10" y2="283.30" stroke="#231f20" stroke-width="2.00"/><line x1="309.30" y1="284.60" x2="432.40" y2="284.60" stroke="#231f20" stroke-width="1.45"/><line x1="309.30" y1="282.30" x2="426.80" y2="281.50" stroke="#231f20" stroke-width="1.45"/><line x1="434.00" y1="271.80" x2="434.00" y2="284.60" stroke="#231f20" stroke-width="1.45"/><line x1="426.60" y1="271.90" x2="426.60" y2="284.60" stroke="#231f20" stroke-width="1.45"/><line x1="427.90" y1="271.90" x2="427.90" y2="284.60" stroke="#231f20" stroke-width="1.45"/><line x1="877.00" y1="272.90" x2="755.00" y2="271.80" stroke="#231f20" stroke-width="1.45"/><line x1="876.90" y1="272.90" x2="876.90" y2="283.30" stroke="#231f20" stroke-width="2.00"/><line x1="879.70" y1="284.60" x2="756.60" y2="284.60" stroke="#231f20" stroke-width="1.45"/><line x1="879.70" y1="282.30" x2="762.20" y2="281.50" stroke="#231f20" stroke-width="1.45"/><line x1="755.00" y1="271.80" x2="755.00" y2="284.60" stroke="#231f20" stroke-width="1.45"/><line x1="762.40" y1="271.90" x2="762.40" y2="284.60" stroke="#231f20" stroke-width="1.45"/><line x1="761.10" y1="271.90" x2="761.10" y2="284.60" stroke="#231f20" stroke-width="1.45"/><line x1="312.00" y1="520.10" x2="434.00" y2="521.20" stroke="#231f20" stroke-width="1.45"/><line x1="312.10" y1="520.10" x2="312.10" y2="509.70" stroke="#231f20" stroke-width="2.00"/><line x1="309.30" y1="508.40" x2="432.40" y2="508.40" stroke="#231f20" stroke-width="1.45"/><line x1="309.30" y1="510.70" x2="426.80" y2="511.50" stroke="#231f20" stroke-width="1.45"/><line x1="434.00" y1="521.20" x2="434.00" y2="508.40" stroke="#231f20" stroke-width="1.45"/><line x1="426.60" y1="521.10" x2="426.60" y2="508.40" stroke="#231f20" stroke-width="1.45"/><line x1="427.90" y1="521.10" x2="427.90" y2="508.40" stroke="#231f20" stroke-width="1.45"/><line x1="877.00" y1="520.10" x2="755.00" y2="521.20" stroke="#231f20" stroke-width="1.45"/><line x1="876.90" y1="520.10" x2="876.90" y2="509.70" stroke="#231f20" stroke-width="2.00"/><line x1="879.70" y1="508.40" x2="756.60" y2="508.40" stroke="#231f20" stroke-width="1.45"/><line x1="879.70" y1="510.70" x2="762.20" y2="511.50" stroke="#231f20" stroke-width="1.45"/><line x1="755.00" y1="521.20" x2="755.00" y2="508.40" stroke="#231f20" stroke-width="1.45"/><line x1="762.40" y1="521.10" x2="762.40" y2="508.40" stroke="#231f20" stroke-width="1.45"/><line x1="761.10" y1="521.10" x2="761.10" y2="508.40" stroke="#231f20" stroke-width="1.45"/><rect x="310.2" y="542.0" width="4.2" height="3.2" fill="#fff"/><rect x="303.4" y="548.8" width="4.6" height="2.6" fill="#fff" fill-opacity="0.6"/><line x1="190.30" y1="309.50" x2="190.30" y2="483.20" stroke="#231f20" stroke-width="1.45"/><line x1="998.70" y1="309.50" x2="998.70" y2="483.20" stroke="#231f20" stroke-width="1.45"/><line x1="196.40" y1="314.10" x2="196.40" y2="478.60" stroke="#231f20" stroke-width="1.45"/><line x1="992.60" y1="314.10" x2="992.60" y2="478.60" stroke="#231f20" stroke-width="1.45"/><line x1="231.60" y1="310.90" x2="231.60" y2="481.80" stroke="#231f20" stroke-width="1.45"/><line x1="957.40" y1="310.90" x2="957.40" y2="481.80" stroke="#231f20" stroke-width="1.45"/><line x1="256.40" y1="315.20" x2="256.40" y2="477.50" stroke="#231f20" stroke-width="1.45"/><line x1="932.60" y1="315.20" x2="932.60" y2="477.50" stroke="#231f20" stroke-width="1.45"/><line x1="261.20" y1="315.20" x2="261.20" y2="477.50" stroke="#231f20" stroke-width="1.45"/><line x1="927.80" y1="315.20" x2="927.80" y2="477.50" stroke="#231f20" stroke-width="1.45"/><line x1="269.40" y1="319.50" x2="269.40" y2="473.20" stroke="#231f20" stroke-width="1.45"/><line x1="919.60" y1="319.50" x2="919.60" y2="473.20" stroke="#231f20" stroke-width="1.45"/><line x1="274.20" y1="315.20" x2="274.20" y2="477.50" stroke="#231f20" stroke-width="1.45"/><line x1="914.80" y1="315.20" x2="914.80" y2="477.50" stroke="#231f20" stroke-width="1.45"/><line x1="281.50" y1="319.50" x2="281.50" y2="473.20" stroke="#231f20" stroke-width="1.45"/><line x1="907.50" y1="319.50" x2="907.50" y2="473.20" stroke="#231f20" stroke-width="1.45"/><line x1="286.30" y1="315.20" x2="286.30" y2="477.50" stroke="#231f20" stroke-width="1.45"/><line x1="902.70" y1="315.20" x2="902.70" y2="477.50" stroke="#231f20" stroke-width="1.45"/><line x1="294.20" y1="319.50" x2="294.20" y2="473.20" stroke="#231f20" stroke-width="1.45"/><line x1="894.80" y1="319.50" x2="894.80" y2="473.20" stroke="#231f20" stroke-width="1.45"/><line x1="299.00" y1="315.20" x2="299.00" y2="477.50" stroke="#231f20" stroke-width="1.45"/><line x1="890.00" y1="315.20" x2="890.00" y2="477.50" stroke="#231f20" stroke-width="1.45"/><line x1="307.00" y1="319.50" x2="307.00" y2="473.20" stroke="#231f20" stroke-width="1.45"/><line x1="882.00" y1="319.50" x2="882.00" y2="473.20" stroke="#231f20" stroke-width="1.45"/><line x1="311.80" y1="315.20" x2="311.80" y2="477.50" stroke="#231f20" stroke-width="1.45"/><line x1="877.20" y1="315.20" x2="877.20" y2="477.50" stroke="#231f20" stroke-width="1.45"/><line x1="319.70" y1="319.50" x2="319.70" y2="473.20" stroke="#231f20" stroke-width="1.45"/><line x1="869.30" y1="319.50" x2="869.30" y2="473.20" stroke="#231f20" stroke-width="1.45"/><line x1="322.20" y1="284.60" x2="322.20" y2="508.10" stroke="#231f20" stroke-width="1.45"/><line x1="866.80" y1="284.60" x2="866.80" y2="508.10" stroke="#231f20" stroke-width="1.45"/><line x1="380.80" y1="298.30" x2="380.80" y2="494.40" stroke="#231f20" stroke-width="1.45"/><line x1="808.20" y1="298.30" x2="808.20" y2="494.40" stroke="#231f20" stroke-width="1.45"/><line x1="387.00" y1="310.70" x2="387.00" y2="482.00" stroke="#231f20" stroke-width="1.45"/><line x1="802.00" y1="310.70" x2="802.00" y2="482.00" stroke="#231f20" stroke-width="1.45"/><line x1="411.20" y1="310.70" x2="411.20" y2="482.00" stroke="#231f20" stroke-width="1.45"/><line x1="777.80" y1="310.70" x2="777.80" y2="482.00" stroke="#231f20" stroke-width="1.45"/><line x1="416.60" y1="302.50" x2="416.60" y2="490.20" stroke="#231f20" stroke-width="1.45"/><line x1="772.40" y1="302.50" x2="772.40" y2="490.20" stroke="#231f20" stroke-width="1.45"/><line x1="432.60" y1="315.20" x2="432.60" y2="477.50" stroke="#231f20" stroke-width="1.45"/><line x1="756.40" y1="315.20" x2="756.40" y2="477.50" stroke="#231f20" stroke-width="1.45"/><line x1="506.30" y1="315.20" x2="506.30" y2="477.50" stroke="#231f20" stroke-width="1.45"/><line x1="682.70" y1="315.20" x2="682.70" y2="477.50" stroke="#231f20" stroke-width="1.45"/><line x1="509.70" y1="318.90" x2="509.70" y2="473.80" stroke="#231f20" stroke-width="1.45"/><line x1="679.30" y1="318.90" x2="679.30" y2="473.80" stroke="#231f20" stroke-width="1.45"/><circle cx="399.10" cy="310.70" r="12.10" fill="#231f20"/><line x1="392.10" y1="304.70" x2="401.10" y2="314.70" stroke="#231f20" stroke-width="0.50" stroke-opacity="0.55" style="stroke:#9a9a9a"/><line x1="396.10" y1="301.70" x2="406.10" y2="311.70" stroke="#231f20" stroke-width="0.50" stroke-opacity="0.55" style="stroke:#9a9a9a"/><line x1="400.10" y1="300.70" x2="408.10" y2="308.70" stroke="#231f20" stroke-width="0.50" stroke-opacity="0.55" style="stroke:#9a9a9a"/><line x1="391.10" y1="310.70" x2="397.10" y2="317.70" stroke="#231f20" stroke-width="0.50" stroke-opacity="0.55" style="stroke:#9a9a9a"/><line x1="384.00" y1="310.70" x2="414.70" y2="310.70" stroke="#231f20" stroke-width="1.90"/><line x1="399.10" y1="298.60" x2="399.10" y2="296.40" stroke="#231f20" stroke-width="1.60"/><line x1="399.10" y1="322.80" x2="399.10" y2="375.70" stroke="#231f20" stroke-width="1.20"/><circle cx="789.90" cy="310.70" r="12.10" fill="#231f20"/><line x1="782.90" y1="304.70" x2="791.90" y2="314.70" stroke="#231f20" stroke-width="0.50" stroke-opacity="0.55" style="stroke:#9a9a9a"/><line x1="786.90" y1="301.70" x2="796.90" y2="311.70" stroke="#231f20" stroke-width="0.50" stroke-opacity="0.55" style="stroke:#9a9a9a"/><line x1="790.90" y1="300.70" x2="798.90" y2="308.70" stroke="#231f20" stroke-width="0.50" stroke-opacity="0.55" style="stroke:#9a9a9a"/><line x1="781.90" y1="310.70" x2="787.90" y2="317.70" stroke="#231f20" stroke-width="0.50" stroke-opacity="0.55" style="stroke:#9a9a9a"/><line x1="774.80" y1="310.70" x2="805.50" y2="310.70" stroke="#231f20" stroke-width="1.90"/><line x1="789.90" y1="298.60" x2="789.90" y2="296.40" stroke="#231f20" stroke-width="1.60"/><line x1="789.90" y1="322.80" x2="789.90" y2="336.60" stroke="#231f20" stroke-width="1.20"/><circle cx="399.10" cy="482.00" r="12.10" fill="#231f20"/><line x1="392.10" y1="476.00" x2="401.10" y2="486.00" stroke="#231f20" stroke-width="0.50" stroke-opacity="0.55" style="stroke:#9a9a9a"/><line x1="396.10" y1="473.00" x2="406.10" y2="483.00" stroke="#231f20" stroke-width="0.50" stroke-opacity="0.55" style="stroke:#9a9a9a"/><line x1="400.10" y1="472.00" x2="408.10" y2="480.00" stroke="#231f20" stroke-width="0.50" stroke-opacity="0.55" style="stroke:#9a9a9a"/><line x1="391.10" y1="482.00" x2="397.10" y2="489.00" stroke="#231f20" stroke-width="0.50" stroke-opacity="0.55" style="stroke:#9a9a9a"/><line x1="384.00" y1="482.00" x2="414.70" y2="482.00" stroke="#231f20" stroke-width="1.90"/><line x1="399.10" y1="494.10" x2="399.10" y2="496.30" stroke="#231f20" stroke-width="1.60"/><line x1="399.10" y1="469.90" x2="399.10" y2="456.10" stroke="#231f20" stroke-width="1.20"/><circle cx="789.90" cy="482.00" r="12.10" fill="#231f20"/><line x1="782.90" y1="476.00" x2="791.90" y2="486.00" stroke="#231f20" stroke-width="0.50" stroke-opacity="0.55" style="stroke:#9a9a9a"/><line x1="786.90" y1="473.00" x2="796.90" y2="483.00" stroke="#231f20" stroke-width="0.50" stroke-opacity="0.55" style="stroke:#9a9a9a"/><line x1="790.90" y1="472.00" x2="798.90" y2="480.00" stroke="#231f20" stroke-width="0.50" stroke-opacity="0.55" style="stroke:#9a9a9a"/><line x1="781.90" y1="482.00" x2="787.90" y2="489.00" stroke="#231f20" stroke-width="0.50" stroke-opacity="0.55" style="stroke:#9a9a9a"/><line x1="774.80" y1="482.00" x2="805.50" y2="482.00" stroke="#231f20" stroke-width="1.90"/><line x1="789.90" y1="494.10" x2="789.90" y2="496.30" stroke="#231f20" stroke-width="1.60"/><line x1="789.90" y1="469.90" x2="789.90" y2="417.00" stroke="#231f20" stroke-width="1.20"/><line x1="524.40" y1="473.80" x2="594.50" y2="434.80" stroke="#231f20" stroke-width="1.45"/><line x1="594.50" y1="434.80" x2="664.60" y2="473.80" stroke="#231f20" stroke-width="1.45"/><line x1="524.40" y1="491.00" x2="664.60" y2="491.00" stroke="#231f20" stroke-width="1.45"/><line x1="518.70" y1="500.90" x2="670.30" y2="500.90" stroke="#231f20" stroke-width="1.45"/><line x1="518.70" y1="563.60" x2="670.30" y2="563.60" stroke="#231f20" stroke-width="1.45"/><line x1="499.30" y1="569.70" x2="689.70" y2="569.70" stroke="#231f20" stroke-width="1.45"/><path d="M495.00 501.50 L495.00 565.70 L495.06 566.64 L495.25 567.45 L495.56 568.14 L496.00 568.70 L496.56 569.14 L497.25 569.45 L498.06 569.64 L499.00 569.70" stroke="#231f20" stroke-width="1.45" fill="none" stroke-linejoin="round"/><path d="M694.00 501.50 L694.00 565.70 L693.94 566.64 L693.75 567.45 L693.44 568.14 L693.00 568.70 L692.44 569.14 L691.75 569.45 L690.94 569.64 L690.00 569.70" stroke="#231f20" stroke-width="1.45" fill="none" stroke-linejoin="round"/><line x1="672.00" y1="501.10" x2="751.50" y2="501.10" stroke="#231f20" stroke-width="1.45"/><line x1="518.70" y1="500.90" x2="518.70" y2="569.70" stroke="#231f20" stroke-width="1.45"/><line x1="670.30" y1="500.90" x2="670.30" y2="569.70" stroke="#231f20" stroke-width="1.45"/><line x1="194.00" y1="84.40" x2="998.30" y2="84.40" stroke="#231f20" stroke-width="1.45"/><path d="M194.00 84.40L211.30 79.70L211.30 89.10Z" fill="#231f20"/><path d="M998.30 84.40L981.00 89.10L981.00 79.70Z" fill="#231f20"/><line x1="194.50" y1="156.90" x2="502.40" y2="156.90" stroke="#231f20" stroke-width="1.45"/><path d="M194.50 156.90L211.80 152.20L211.80 161.60Z" fill="#231f20"/><path d="M502.40 156.90L485.10 161.60L485.10 152.20Z" fill="#231f20"/><line x1="684.50" y1="156.90" x2="991.10" y2="156.90" stroke="#231f20" stroke-width="1.45"/><path d="M684.50 156.90L701.80 152.20L701.80 161.60Z" fill="#231f20"/><path d="M991.10 156.90L973.80 161.60L973.80 152.20Z" fill="#231f20"/><line x1="190.20" y1="84.30" x2="190.20" y2="289.60" stroke="#231f20" stroke-width="1.30"/><line x1="998.80" y1="84.30" x2="998.80" y2="289.60" stroke="#231f20" stroke-width="1.30"/><line x1="506.30" y1="154.00" x2="506.30" y2="308.00" stroke="#231f20" stroke-width="1.15"/><line x1="682.70" y1="154.00" x2="682.70" y2="308.00" stroke="#231f20" stroke-width="1.15"/><line x1="1170.30" y1="244.60" x2="1170.30" y2="549.80" stroke="#231f20" stroke-width="1.45"/><path d="M1170.30 244.40L1175.00 261.70L1165.60 261.70Z" fill="#231f20"/><path d="M1170.30 549.90L1165.60 532.60L1175.00 532.60Z" fill="#231f20"/><line x1="910.00" y1="243.60" x2="1170.60" y2="243.60" stroke="#231f20" stroke-width="1.45"/><line x1="910.00" y1="550.60" x2="1170.60" y2="550.60" stroke="#231f20" stroke-width="1.45"/><line x1="1091.60" y1="314.50" x2="1091.60" y2="478.70" stroke="#231f20" stroke-width="1.45"/><path d="M1091.60 314.50L1096.30 331.80L1086.90 331.80Z" fill="#231f20"/><path d="M1091.60 478.70L1086.90 461.40L1096.30 461.40Z" fill="#231f20"/><line x1="998.80" y1="314.40" x2="1092.20" y2="314.40" stroke="#231f20" stroke-width="1.45"/><line x1="998.80" y1="478.60" x2="1092.20" y2="478.60" stroke="#231f20" stroke-width="1.45"/><line x1="61.00" y1="397.40" x2="61.00" y2="569.50" stroke="#231f20" stroke-width="1.45"/><path d="M61.00 397.40L65.70 414.70L56.30 414.70Z" fill="#231f20"/><path d="M61.00 569.50L56.30 552.20L65.70 552.20Z" fill="#231f20"/><line x1="60.80" y1="569.60" x2="492.10" y2="569.60" stroke="#231f20" stroke-width="1.45"/><line x1="141.80" y1="501.00" x2="141.80" y2="569.50" stroke="#231f20" stroke-width="1.45"/><path d="M141.80 501.00L146.50 518.30L137.10 518.30Z" fill="#231f20"/><path d="M141.80 569.50L137.10 552.20L146.50 552.20Z" fill="#231f20"/><line x1="137.00" y1="500.90" x2="517.00" y2="500.90" stroke="#231f20" stroke-width="1.45"/><line x1="519.30" y1="640.50" x2="668.80" y2="640.50" stroke="#231f20" stroke-width="1.45"/><path d="M519.30 640.50L536.60 635.80L536.60 645.20Z" fill="#231f20"/><path d="M668.80 640.50L651.50 645.20L651.50 635.80Z" fill="#231f20"/><line x1="518.80" y1="577.80" x2="518.80" y2="641.00" stroke="#231f20" stroke-width="1.45"/><line x1="670.20" y1="577.80" x2="670.20" y2="641.00" stroke="#231f20" stroke-width="1.45"/><line x1="61.00" y1="397.40" x2="182.40" y2="397.40" stroke="#231f20" stroke-width="1.45"/><line x1="184.70" y1="397.40" x2="251.20" y2="397.40" stroke="#231f20" stroke-width="1.45"/><line x1="264.70" y1="397.40" x2="291.00" y2="397.40" stroke="#231f20" stroke-width="1.45"/><line x1="304.60" y1="397.40" x2="371.10" y2="397.40" stroke="#231f20" stroke-width="1.45"/><line x1="384.60" y1="397.40" x2="410.90" y2="397.40" stroke="#231f20" stroke-width="1.45"/><line x1="424.50" y1="397.40" x2="491.00" y2="397.40" stroke="#231f20" stroke-width="1.45"/><line x1="504.50" y1="397.40" x2="530.80" y2="397.40" stroke="#231f20" stroke-width="1.45"/><line x1="544.40" y1="397.40" x2="610.90" y2="397.40" stroke="#231f20" stroke-width="1.45"/><line x1="624.40" y1="397.40" x2="650.70" y2="397.40" stroke="#231f20" stroke-width="1.45"/><line x1="664.30" y1="397.40" x2="730.80" y2="397.40" stroke="#231f20" stroke-width="1.45"/><line x1="744.30" y1="397.40" x2="770.60" y2="397.40" stroke="#231f20" stroke-width="1.45"/><line x1="784.20" y1="397.40" x2="850.70" y2="397.40" stroke="#231f20" stroke-width="1.45"/><line x1="864.20" y1="397.40" x2="890.50" y2="397.40" stroke="#231f20" stroke-width="1.45"/><line x1="904.10" y1="397.40" x2="970.60" y2="397.40" stroke="#231f20" stroke-width="1.45"/><line x1="984.10" y1="397.40" x2="1010.40" y2="397.40" stroke="#231f20" stroke-width="1.45"/><line x1="593.90" y1="282.90" x2="593.90" y2="348.20" stroke="#231f20" stroke-width="1.45"/><line x1="593.90" y1="362.20" x2="593.90" y2="388.60" stroke="#231f20" stroke-width="1.45"/><line x1="593.90" y1="402.00" x2="593.90" y2="467.30" stroke="#231f20" stroke-width="1.45"/><line x1="593.90" y1="481.30" x2="593.90" y2="507.70" stroke="#231f20" stroke-width="1.45"/><line x1="593.90" y1="521.10" x2="593.90" y2="586.40" stroke="#231f20" stroke-width="1.45"/><path d="M599.3 39.4 L603.5 39.4 L603.5 69.5 L616.6 69.5 L616.6 72.9 L599.3 72.9 Z" fill="#231f20"/><path d="M352.1 107.6 L356.4 107.6 L356.4 143.9 L352.1 143.9 Z" fill="#231f20"/><path d="M848.3 107.6 L852.7 107.6 L852.7 143.9 L848.3 143.9 Z" fill="#231f20"/><path d="M1129.2 410.5 L1162.7 410.5 M1131.0 410.5 L1131.0 400.4 A14.95 11.6 0 0 1 1160.9 400.4 L1160.9 410.5" stroke="#231f20" stroke-width="3.80" fill="none"/><path d="M1048.1 400.9 L1084.3 400.9" stroke="#231f20" stroke-width="4.00" fill="none"/><ellipse cx="1071.55" cy="410.6" rx="10.75" ry="7.7" stroke="#231f20" stroke-width="4.0" fill="none"/><path d="M13.9 491.3 L44.2 491.3 L44.2 478.2 L47.3 478.2 L47.3 494.9 L13.9 494.9 Z" fill="#231f20"/><path d="M13.9 460.4 L44.2 460.4 L44.2 453.6 L47.4 453.6 L47.4 472.4 L44.2 472.4 L44.2 464.2 L20.0 464.2 L23.0 471.6 L19.6 472.2 L13.9 463.0 Z" fill="#231f20"/><path d="M94.0 521.3 L127.7 521.3 L127.7 525.5 L94.0 525.5 Z" fill="#231f20"/><path d="M94.0 541.0 L127.7 541.0 L127.7 545.0 L94.0 545.0 Z" fill="#231f20"/><path d="M108.1 525.0 L111.9 525.0 L111.9 541.5 L108.1 541.5 Z" fill="#231f20"/><ellipse cx="586.45" cy="604.55" rx="7.4" ry="6.5" stroke="#231f20" stroke-width="3.6" fill="none"/><ellipse cx="586.8" cy="623.4" rx="8.95" ry="5.4" stroke="#231f20" stroke-width="3.6" fill="none"/><path d="M588.5 598.35 L597.6 598.35" stroke="#231f20" stroke-width="2.90" fill="none"/><path d="M580.0 610.3 C577.5 611.8 577.0 614.5 578.6 616.2 C580.2 617.8 584 617.9 588.5 617.9" stroke="#231f20" stroke-width="3.30" fill="none"/></svg></body></html>
